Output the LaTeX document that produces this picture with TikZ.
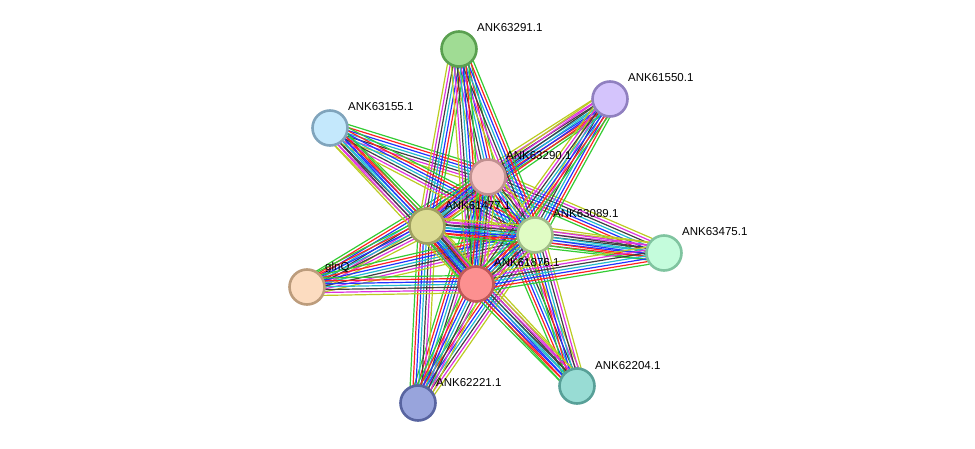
\documentclass[tikz,border=0pt]{standalone}
\usepackage{fontspec}
\setmainfont{Liberation Sans}
\usetikzlibrary{calc}
\pgfdeclarelayer{bg}
\pgfsetlayers{bg,main}
\definecolor{cG}{HTML}{33CC33}
\definecolor{cR}{HTML}{FF2222}
\definecolor{cB}{HTML}{2233FF}
\definecolor{cC}{HTML}{22BBCC}
\definecolor{cK}{HTML}{404040}
\definecolor{cM}{HTML}{DD33DD}
\definecolor{cY}{HTML}{BBCC22}
\definecolor{fA}{HTML}{A0DC94}\definecolor{bA}{HTML}{5AA050}
\definecolor{fB}{HTML}{D4C4FC}\definecolor{bB}{HTML}{9080C0}
\definecolor{fC}{HTML}{C4E8FC}\definecolor{bC}{HTML}{80A4BC}
\definecolor{fD}{HTML}{F8C8C8}\definecolor{bD}{HTML}{C09090}
\definecolor{fE}{HTML}{DCDC94}\definecolor{bE}{HTML}{A0A060}
\definecolor{fF}{HTML}{E0FCC4}\definecolor{bF}{HTML}{A0BC88}
\definecolor{fG}{HTML}{C4FCDC}\definecolor{bG}{HTML}{80C4A0}
\definecolor{fH}{HTML}{FCDCC0}\definecolor{bH}{HTML}{BC9C7C}
\definecolor{fI}{HTML}{FC9090}\definecolor{bI}{HTML}{C05858}
\definecolor{fJ}{HTML}{98A4DC}\definecolor{bJ}{HTML}{5864A0}
\definecolor{fK}{HTML}{98DCD4}\definecolor{bK}{HTML}{58A098}
\tikzset{
  prot/.style={circle, minimum size=35pt, inner sep=0pt, line width=2.6pt},
  lab/.style={anchor=base west, font=\fontsize{11.5pt}{12pt}\selectfont, inner sep=0pt, text=black},
}
\newcommand\bund[2]{%
  \foreach \cc [count=\ii] in {cG,cR,cB,cC,cK,cM,cY}{%
    \pgfmathsetmacro\off{(\ii-4)*2.9}%
    \draw[\cc, line width=1.2pt] ($(#1)!\off pt!90:(#2)$) -- ($(#2)!\off pt!-90:(#1)$);
  }%
}
\begin{document}
\begin{tikzpicture}[x=1pt,y=-1pt]
\useasboundingbox (0,0) rectangle (975,449);
\node[prot, draw=bA, fill=fA] (n91) at (459,49) {};
\node[prot, draw=bB, fill=fB] (n50) at (610,99) {};
\node[prot, draw=bC, fill=fC] (n55) at (330,128) {};
\node[prot, draw=bD, fill=fD] (n90) at (488,177) {};
\node[prot, draw=bE, fill=fE] (n77) at (427,226) {};
\node[prot, draw=bF, fill=fF] (n89) at (535,235) {};
\node[prot, draw=bG, fill=fG] (n75) at (664,253) {};
\node[prot, draw=bH, fill=fH] (nq) at (307,287) {};
\node[prot, draw=bI, fill=fI] (n76) at (476,284) {};
\node[prot, draw=bJ, fill=fJ] (n21) at (418,403) {};
\node[prot, draw=bK, fill=fK] (n04) at (577,386) {};
\node[lab] (l91) at (477,32) {ANK63291.1};
\node[lab] (l50) at (628,82) {ANK61550.1};
\node[lab] (l55) at (348,111) {ANK63155.1};
\node[lab] (l90) at (506,160) {ANK63290.1};
\node[lab] (l77) at (445,210) {ANK61477.1};
\node[lab] (l89) at (553,218) {ANK63089.1};
\node[lab] (l75) at (682,236) {ANK63475.1};
\node[lab] (lq) at (325,270) {glnQ};
\node[lab] (l76) at (494,267) {ANK61876.1};
\node[lab] (l21) at (436,386) {ANK62221.1};
\node[lab] (l04) at (595,369) {ANK62204.1};
\begin{pgfonlayer}{bg}
\foreach \h in {n90,n77,n89,n76}{
  \foreach \p in {n91,n50,n55,n75,nq,n21,n04}{
    \bund{\h}{\p}
  }
}
\bund{n90}{n77}\bund{n90}{n89}\bund{n90}{n76}
\bund{n77}{n89}\bund{n77}{n76}\bund{n89}{n76}
\end{pgfonlayer}
\end{tikzpicture}
\end{document}
